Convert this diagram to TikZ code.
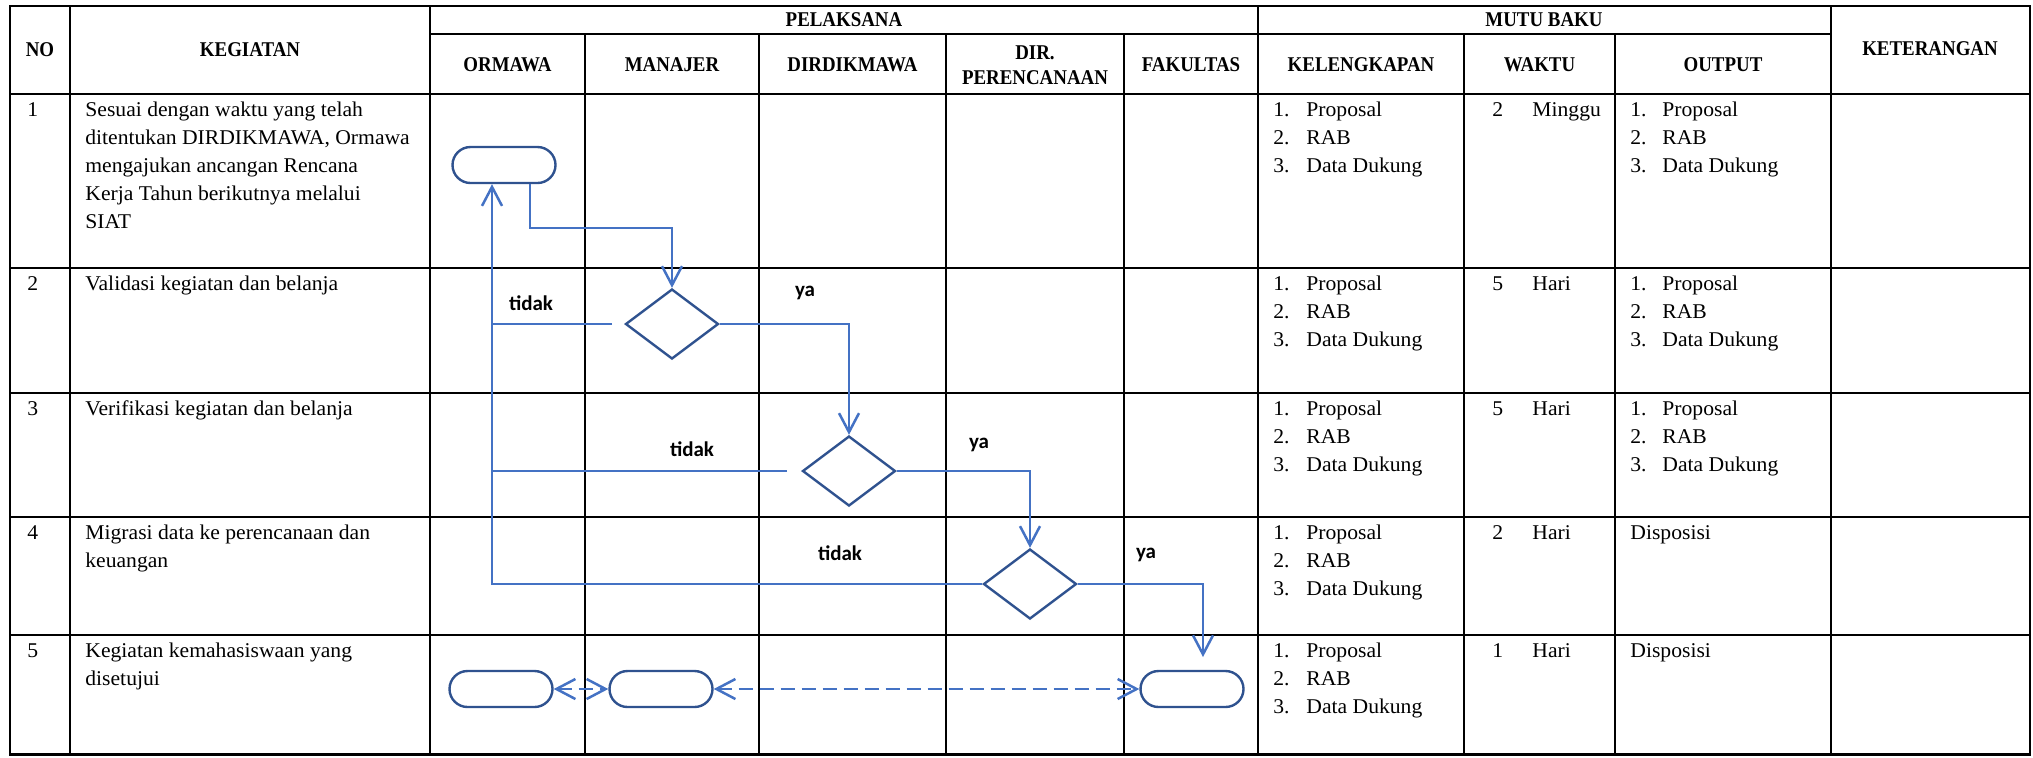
\documentclass[tikz,border=0pt]{standalone}
\usepackage{fontspec}
\setmainfont{Liberation Serif}[FakeStretch=1.03]
\newfontfamily\headfont{Liberation Serif}[FakeStretch=0.9]
\newfontfamily\lblfont{Carlito}
\usetikzlibrary{arrows.meta,shapes.geometric,shapes.misc,calc}
\definecolor{connblue}{HTML}{4472C4}
\definecolor{shpblue}{HTML}{2F528F}
\begin{document}
\begin{tikzpicture}[x=0.5pt,y=-0.5pt,
  gridline/.style={line width=1.25pt, black},
  body/.style={anchor=base west, inner sep=0pt, font=\fontsize{10.5}{14.1}\selectfont},
  head/.style={inner sep=0pt, align=center, font=\headfont\bfseries\fontsize{10.5}{12.5}\selectfont},
  lbl/.style={inner sep=0pt, font=\lblfont\bfseries\fontsize{10.5}{12}\selectfont},
  term/.style={rounded rectangle, draw=shpblue, line width=1.2pt, minimum width=51.5pt, minimum height=18pt, inner sep=0pt},
  dec/.style={diamond, draw=shpblue, line width=1.2pt, minimum width=46.5pt, minimum height=35pt, inner sep=0pt},
  flow/.style={draw=connblue, line width=1.25pt},
  tip/.style={-{Straight Barb[length=9.5pt,width=10pt]}},
  tipboth/.style={{Straight Barb[length=9.5pt,width=10pt]}-{Straight Barb[length=9.5pt,width=10pt]}},
  dashline/.style={dash pattern=on 7pt off 3.5pt}
]
\useasboundingbox (0,0) rectangle (2033,757);
% grid
\draw[gridline] (10,6) rectangle (2030,754.5);
\draw[gridline] (430,34) -- (1831,34);
\foreach \yy in {94,268,393,517,635} \draw[gridline] (10,\yy) -- (2030,\yy);
\foreach \xx in {70,430,1258,1831} \draw[gridline] (\xx,6) -- (\xx,754.5);
\foreach \xx in {585,759,946,1124,1464,1615} \draw[gridline] (\xx,34) -- (\xx,754.5);
% headers
\node[head] (hno) at (40,50) {NO};
\node[head] (hkeg) at (250,50) {KEGIATAN};
\node[head] (hpel) at (844,20) {PELAKSANA};
\node[head] (hmutu) at (1544,20) {MUTU BAKU};
\node[head] (hket) at (1930,49) {KETERANGAN};
\node[head] (horm) at (507.5,64.5) {ORMAWA};
\node[head] (hman) at (672,64.5) {MANAJER};
\node[head] (hdird) at (852.5,64.5) {DIRDIKMAWA};
\node[head] (hdirp) at (1035,65.5) {DIR.\\PERENCANAAN};
\node[head] (hfak) at (1191,64.5) {FAKULTAS};
\node[head] (hkel) at (1361,64.5) {KELENGKAPAN};
\node[head] (hwak) at (1539.5,64.5) {WAKTU};
\node[head] (hout) at (1723,64.5) {OUTPUT};
% row numbers, waktu
\foreach \r/\tp/\wn/\wu in {1/94/2/Minggu, 2/268/5/Hari, 3/393/5/Hari, 4/517/2/Hari, 5/635/1/Hari} {
  \node[body] (no\r) at (27,\tp+22) {\r};
  \node[body] (wn\r) at (1492,\tp+22) {\wn};
  \node[body] (wu\r) at (1532,\tp+22) {\wu};
  % kelengkapan lists
  \foreach \t [count=\i] in {Proposal,RAB,Data Dukung} {
    \node[body] (kn\r\i) at (1273,{\tp+22+(\i-1)*28.2}) {\i.};
    \node[body] (kl\r\i) at (1306,{\tp+22+(\i-1)*28.2}) {\t};
  }
}
% output lists rows 1-3
\foreach \r/\tp in {1/94, 2/268, 3/393} {
  \foreach \t [count=\i] in {Proposal,RAB,Data Dukung} {
    \node[body] (on\r\i) at (1630,{\tp+22+(\i-1)*28.2}) {\i.};
    \node[body] (ol\r\i) at (1662,{\tp+22+(\i-1)*28.2}) {\t};
  }
}
\node[body] (o4) at (1630,539) {Disposisi};
\node[body] (o5) at (1630,657) {Disposisi};
% kegiatan texts
\foreach \t [count=\i] in {Sesuai dengan waktu yang telah, {ditentukan DIRDIKMAWA, Ormawa}, mengajukan ancangan Rencana, Kerja Tahun berikutnya melalui, SIAT}
  \node[body] (ka\i) at (85,{116+(\i-1)*28.2}) {\t};
\node[body] (kb1) at (85,290) {Validasi kegiatan dan belanja};
\node[body] (kc1) at (85,415) {Verifikasi kegiatan dan belanja};
\node[body] (kd1) at (85,539) {Migrasi data ke perencanaan dan};
\node[body] (kd2) at (85,567.2) {keuangan};
\node[body] (ke1) at (85,657) {Kegiatan kemahasiswaan yang};
\node[body] (ke2) at (85,685.2) {disetujui};
% flow shapes
\node[term] (s1) at (504,165) {};
\node[dec] (d1) at (672,324) {};
\node[dec] (d2) at (849,471) {};
\node[dec] (d3) at (1030,584) {};
\node[term] (tO) at (501,689) {};
\node[term] (tM) at (661,689) {};
\node[term] (tF) at (1192,689) {};
% labels
\node[lbl] (t1) at (531,303) {tidak};
\node[lbl] (y1) at (805,293) {ya};
\node[lbl] (t2) at (692,449) {tidak};
\node[lbl] (y2) at (979,445) {ya};
\node[lbl] (t3) at (840,553) {tidak};
\node[lbl] (y3) at (1146,555) {ya};
% connectors
\coordinate (ret) at (492,0);
\coordinate (c1) at (530,228);
\coordinate (g1) at (612,0);
\coordinate (g2) at (787,0);
\coordinate (fin) at (1203,657);
\draw[flow,tip] (c1 |- s1.south) -- (c1) -| (d1.north);
\draw[flow] (g1 |- d1.west) -- (ret |- d1.west);
\draw[flow,tip] (d1.east) -| (d2.north);
\draw[flow] (g2 |- d2.west) -- (ret |- d2.west);
\draw[flow,tip] (d2.east) -| (d3.north);
\draw[flow,tip] (d3.west) -- (ret |- d3.west) -- (ret |- s1.south);
\draw[flow,tip] (d3.east) -| (fin);
\draw[flow,dashline,tipboth] (tO.east) -- (tM.west);
\draw[flow,dashline,tipboth] (tM.east) -- (tF.west);
\end{tikzpicture}
\end{document}
